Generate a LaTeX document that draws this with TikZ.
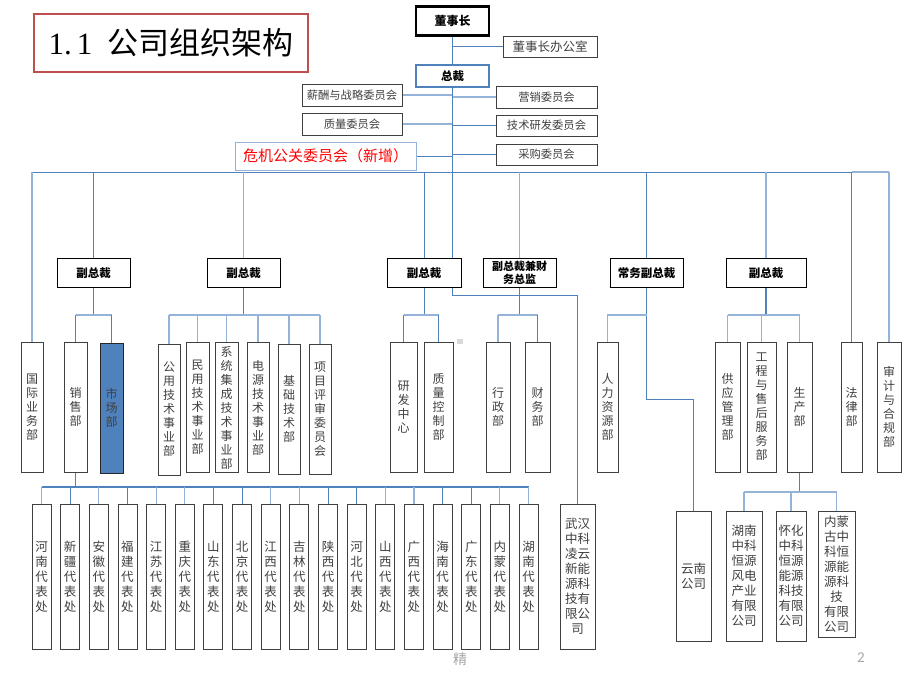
\documentclass[tikz,border=0pt]{standalone}
\usepackage{fontspec}
\setmainfont{Liberation Serif}
\newfontfamily\cjk{Noto Sans CJK SC}
\newfontfamily\footfont{Carlito}
\usetikzlibrary{backgrounds}
\definecolor{lnblue}{HTML}{4F81BD}
\definecolor{lnlight}{HTML}{95B3D7}
\definecolor{ttlred}{HTML}{C0504D}
\definecolor{txtgray}{HTML}{404040}
\definecolor{footgray}{HTML}{A6A6A6}
\pgfdeclarelayer{bottom}
\pgfsetlayers{bottom,background,main}
\begin{document}
\begin{tikzpicture}[x=1pt,y=-1pt,
  plainbox/.style={draw=black!75, line width=0.9pt, fill=white, inner sep=0pt, align=center, text=txtgray, font=\cjk\fontsize{11.3}{13}\selectfont},
  headbox/.style={draw=black, line width=1pt, fill=white, inner sep=0pt, align=center, text=black, font=\cjk\bfseries\fontsize{11.5}{13.5}\selectfont},
  combox/.style={plainbox, minimum width=100pt, minimum height=22pt},
  comrbox/.style={plainbox, minimum width=101pt, minimum height=21pt},
  deptbox/.style={plainbox, minimum height=130pt, font=\cjk\fontsize{12}{14}\selectfont},
  repbox/.style={plainbox, minimum width=19pt, minimum height=145pt, font=\cjk\fontsize{12.5}{15}\selectfont},
  compbox/.style={plainbox, minimum height=130pt, font=\cjk\fontsize{12.5}{15}\selectfont},
  linedark/.style={draw=lnblue, line width=0.9pt},
  linelight/.style={draw=lnlight, line width=1.1pt}
]
\useasboundingbox (0,0) rectangle (920,690);
\begin{pgfonlayer}{bottom}
\fill[white] (0,0) rectangle (920,690);
\end{pgfonlayer}

% ---------- top ----------
\node[plainbox, draw=ttlred, line width=2pt, minimum width=274pt, minimum height=58pt, text=black, font=\fontsize{31}{34}\selectfont] (title) at (171,43) {1.\hspace{5pt}1\hspace{15pt}{\cjk 公司组织架构}};
\node[headbox, line width=2.2pt, minimum width=73pt, minimum height=29pt, font=\cjk\bfseries\fontsize{12}{14}\selectfont] (dsz) at (452.5,21) {董事长};
\node[plainbox, minimum width=94pt, minimum height=21pt, font=\cjk\fontsize{12.5}{14}\selectfont] (dszb) at (550,46.5) {董事长办公室};
\node[headbox, draw=lnblue, line width=2pt, minimum width=73pt, minimum height=22pt] (zc) at (452.5,76) {总裁};
\node[combox] (c1) at (352,95) {薪酬与战略委员会};
\node[combox] (c2) at (352,124) {质量委员会};
\node[plainbox, draw=lnlight, line width=1pt, minimum width=181pt, minimum height=28pt, text=red, font=\cjk\fontsize{15}{17}\selectfont] (c3) at (325.5,156) {危机公关委员会（新增）};
\node[comrbox, minimum height=22pt] (c4) at (546.5,97) {营销委员会};
\node[comrbox] (c5) at (546.5,125.5) {技术研发委员会};
\node[comrbox] (c6) at (546.5,154.5) {采购委员会};

% ---------- row 2 ----------
\node[headbox, minimum width=73pt, minimum height=29pt] (v1) at (93.5,273) {副总裁};
\node[headbox, minimum width=73pt, minimum height=29pt] (v2) at (243.5,273) {副总裁};
\node[headbox, minimum width=74pt, minimum height=29pt] (v3) at (424,273) {副总裁};
\node[headbox, minimum width=73pt, minimum height=29pt, font=\cjk\bfseries\fontsize{11}{13}\selectfont] (v4) at (519.5,273) {副总裁兼财\\务总监};
\node[headbox, minimum width=73pt, minimum height=29pt] (v5) at (646.5,273) {常务副总裁};
\node[headbox, minimum width=80pt, minimum height=29pt] (v6) at (766,273) {副总裁};

% ---------- row 3 ----------
\node[deptbox, minimum width=22pt] (d1) at (32,407) {国\\际\\业\\务\\部};
\node[deptbox, minimum width=23pt] (d2) at (75.5,407) {销\\售\\部};
\node[deptbox, minimum width=23pt, fill=lnblue, draw=black!85, text=black!75] (d3) at (111.5,408) {市\\场\\部};
\node[deptbox, minimum width=22pt, minimum height=131pt] (d4) at (169,409.5) {公\\用\\技\\术\\事\\业\\部};
\node[deptbox, minimum width=23pt] (d5) at (197.5,407.5) {民\\用\\技\\术\\事\\业\\部};
\node[deptbox, minimum width=23pt] (d6) at (226.5,407.5) {系\\统\\集\\成\\技\\术\\事\\业\\部};
\node[deptbox, minimum width=22pt] (d7) at (258,407.5) {电\\源\\技\\术\\事\\业\\部};
\node[deptbox, minimum width=22pt] (d8) at (289,409) {基\\础\\技\\术\\部};
\node[deptbox, minimum width=22pt] (d9) at (320,409) {项\\目\\评\\审\\委\\员\\会};
\node[deptbox, minimum width=27pt] (d10) at (403.5,407) {研\\发\\中\\心};
\node[deptbox, minimum width=29pt] (d11) at (438.5,407) {质\\量\\控\\制\\部};
\node[deptbox, minimum width=24pt] (d12) at (498,407) {行\\政\\部};
\node[deptbox, minimum width=25pt] (d13) at (537.5,407) {财\\务\\部};
\node[deptbox, minimum width=21pt] (d14) at (607.5,407) {人\\力\\资\\源\\部};
\node[deptbox, minimum width=25pt] (d15) at (727.5,407) {供\\应\\管\\理\\部};
\node[deptbox, minimum width=29pt] (d16) at (761.5,407) {工\\程\\与\\售\\后\\服\\务\\部};
\node[deptbox, minimum width=25pt] (d17) at (799.5,407) {生\\产\\部};
\node[deptbox, minimum width=21pt] (d18) at (851.5,407) {法\\律\\部};
\node[deptbox, minimum width=24pt] (d19) at (889,407) {审\\计\\与\\合\\规\\部};
\fill[black!15] (457,339) rectangle (463,344);

% ---------- row 4 ----------
\foreach \a/\b [count=\i] in {河/南,新/疆,安/徽,福/建,江/苏,重/庆,山/东,北/京,江/西,吉/林,陕/西,河/北,山/西,广/西,海/南,广/东,内/蒙,湖/南}
  \node[repbox] (rep\i) at ({41.5+28.65*(\i-1)},576.5) {\a\\\b\\代\\表\\处};
\node[compbox, minimum width=35pt, minimum height=145pt] (wh) at (577.5,576.5) {武汉\\中科\\凌云\\新能\\源科\\技有\\限公\\司};
\node[compbox, minimum width=35pt] (yn) at (693.5,576) {云南\\公司};
\node[compbox, minimum width=36pt] (hn) at (744,576) {湖南\\中科\\恒源\\风电\\产业\\有限\\公司};
\node[compbox, minimum width=30pt] (hh) at (791,576) {怀化\\中科\\恒源\\能源\\科技\\有限\\公司};
\node[compbox, minimum width=37pt, minimum height=126pt] (nm) at (836.5,574) {内蒙\\古中\\科恒\\源能\\源科\\技\\有限\\公司};

% ---------- footer ----------
\node[font=\cjk\fontsize{14}{16}\selectfont, text=footgray] (jing) at (460,659) {精};
\node[font=\footfont\fontsize{15}{17}\selectfont, text=footgray] (pg) at (861,658) {2};

% ---------- connectors ----------
\coordinate (bus) at (0,172);
\coordinate (br) at (0,315);
\coordinate (tk) at (452.5,295);
\coordinate (k5) at (646.5,399);
\coordinate (rb) at (0,487);
\coordinate (pb) at (0,492);
\begin{pgfonlayer}{background}
\draw[linedark] (dsz.south) -- (zc.north);
\draw[linedark] (dsz.south |- dszb.west) -- (dszb.west);
\draw[linelight] (c1.east) -- (c1.east -| zc.center);
\draw[linelight] (c2.east) -- (c2.east -| zc.center);
\draw[linedark] (c3.east) -- (c3.east -| zc.center);
\draw[linelight] (c4.west -| zc.center) -- (c4.west);
\draw[linedark] (c5.west -| zc.center) -- (c5.west);
\draw[linedark] (c6.west -| zc.center) -- (c6.west);
\draw[linedark] (zc.south) -- (tk) -| (wh.north);
\draw[linedark] (d1.north |- bus) -- (d18.north |- bus);
\draw[linelight] (d18.north |- bus) -- (d19.north |- bus);
\draw[linelight] (d1.north) -- (d1.north |- bus);
\foreach \n in {v1,v3,v5,d18} \draw[linedark] (\n.north) -- (\n.north |- bus);
\foreach \n in {v2,v4,v6} \draw[linelight] (\n.north) -- (\n.north |- bus);
\draw[linelight] (d19.north) -- (d19.north |- bus);
% brackets row 3
\draw[linedark] (v1.south) -- (v1.south |- br);
\draw[linelight] (d2.north |- br) -- (d3.north |- br);
\draw[linedark] (d2.north) -- (d2.north |- br);
\draw[linedark] (d3.north) -- (d3.north |- br);
\draw[linedark, line width=1.4pt] (v2.south) -- (v2.south |- br);
\draw[linelight] (d4.north |- br) -- (d9.north |- br);
\foreach \n in {d4,d5,d6,d7,d8,d9} \draw[linelight] (\n.north) -- (\n.north |- br);
\draw[linedark] (v3.south) -- (v3.south |- br);
\draw[linelight] (d10.north |- br) -- (d11.north |- br);
\draw[linedark] (d10.north) -- (d10.north |- br);
\draw[linedark] (d11.north) -- (d11.north |- br);
\draw[linedark] (v4.south) -- (v4.south |- br);
\draw[linelight] (d12.north |- br) -- (d13.north |- br);
\draw[linelight] (d12.north) -- (d12.north |- br);
\draw[linedark] (d13.north) -- (d13.north |- br);
\draw[linedark] (v5.south) -- (k5) -| (yn.north);
\draw[linelight] (v5.south |- br) -| (d14.north);
\draw[linedark, line width=1.4pt] (v6.south) -- (v6.south |- br);
\draw[linelight] (d15.north |- br) -- (d17.north |- br);
\foreach \n in {d15,d16,d17} \draw[linelight] (\n.north) -- (\n.north |- br);
% row 4
\draw[linedark, line width=1.6pt] (d2.south) -- (d2.south |- rb);
\draw[linedark, line width=1.4pt] (rep1.north |- rb) -- (rep18.north |- rb);
\foreach \i in {1,3,5,6,9,10,13,14,17,18} \draw[linelight] (rep\i.north) -- (rep\i.north |- rb);
\foreach \i in {2,4,7,8,11,12,15,16} \draw[linedark] (rep\i.north) -- (rep\i.north |- rb);
\draw[linedark, line width=1.4pt] (d17.south) -- (d17.south |- pb);
\draw[linelight] (hn.north |- pb) -- (nm.north |- pb);
\foreach \n in {hn,hh,nm} \draw[linelight] (\n.north) -- (\n.north |- pb);
\end{pgfonlayer}
\end{tikzpicture}
\end{document}
